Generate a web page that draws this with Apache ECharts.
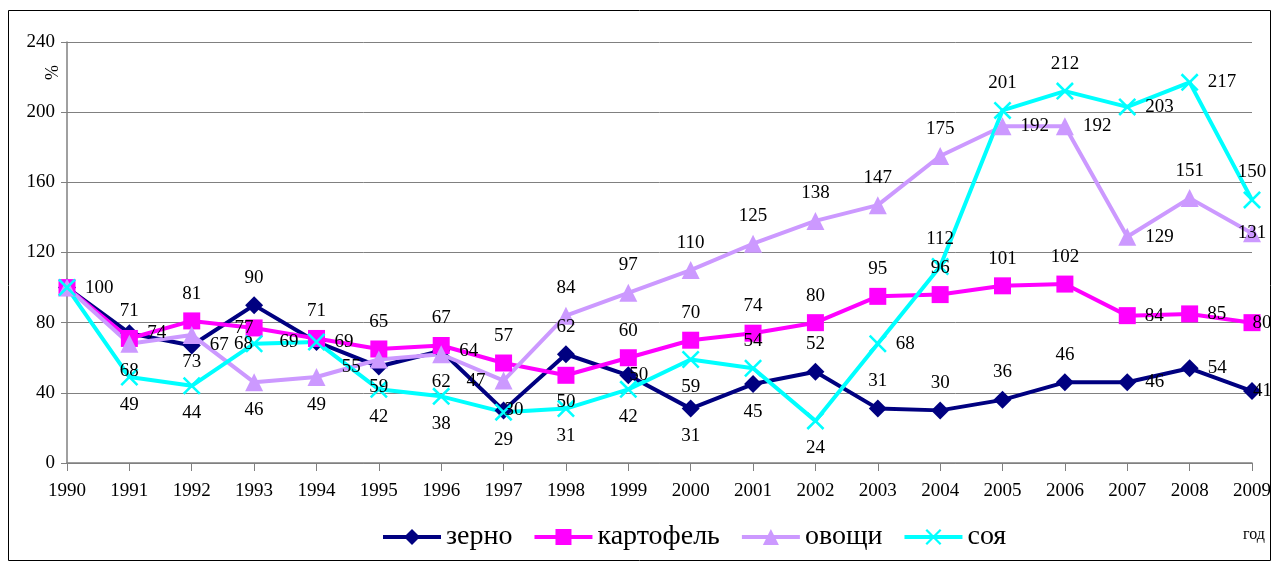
<!DOCTYPE html>
<html>
<head>
<meta charset="utf-8">
<script src="https://cdn.jsdelivr.net/npm/echarts@6/dist/echarts.min.js"></script>
<style>
  html, body { margin: 0; padding: 0; background: #fff; }
  #chart { width: 1277px; height: 564px; }
</style>
</head>
<body>
<div id="chart"></div>
<script>
// годы
const years = ['1990', '1991', '1992', '1993', '1994', '1995', '1996', '1997', '1998', '1999',
  '2000', '2001', '2002', '2003', '2004', '2005', '2006', '2007', '2008', '2009']
const zerno = [100, 74, 67, 90, 69, 55, 64, 30, 62, 50, 31, 45, 52, 31, 30, 36, 46, 46, 54, 41]
const kartofel = [100, 71, 81, 77, 71, 65, 67, 57, 50, 60, 70, 74, 80, 95, 96, 101, 102, 84, 85, 80]
const ovoshchi = [100, 68, 73, 46, 49, 59, 62, 47, 84, 97, 110, 125, 138, 147, 175, 192, 192, 129, 151, 131]
const soya = [100, 49, 44, 68, 69, 42, 38, 29, 31, 42, 59, 54, 24, 68, 112, 201, 212, 203, 217, 150]
const yTicks = [0, 40, 80, 120, 160, 200, 240]

// где стоят подписи (t - сверху, b - снизу, r - справа, l - слева,
// R / L - вплотную к маркеру, c - на маркере, '' - нет подписи)
const placeZerno = ['', 'r', 'r', 't', 'r', 'l', 'r', 'R', 't', 'R', 'b', 'b', 't', 't', 't', 't', 't', 'r', 'r', 'R']
const placeKart = ['', 't', 't', 'L', 't', 't', 't', 't', 'b', 't', 't', 't', 't', 't', 't', 't', 't', 'r', 'r', 'R']
const placeOvosh = ['', 'b', 'b', 'b', 'b', 'b', 'b', 'l', 't', 't', 't', 't', 't', 't', 't', 'r', 'r', 'r', 't', 'c']
const placeSoya = ['r', 'b', 'b', 'L', 'l', 'b', 'b', 'b', 'b', 'b', 'b', 't', 'b', 'r', 't', 't', 't', 'r', 'r', 't']

const font = 'Liberation Serif'
const crossPath = 'path://M0,1L1,0L10,9L9,10Z M9,0L10,1L1,10L0,9Z'
const posName = { t: 'top', b: 'bottom', r: 'right', l: 'left', R: 'right', L: 'left', c: 'inside' }

const chart = echarts.init(document.getElementById('chart'))

function labelFor(p) {
  if (!p) return { show: false }
  const lbl = { show: true, position: posName[p] }
  if (p === 'R' || p === 'L') lbl.distance = -8
  return lbl
}

function makeSeries(name, data, place, color, symbol, size) {
  return {
    name: name,
    type: 'line',
    data: data.map((v, i) => ({ value: v, label: labelFor(place[i]) })),
    symbol: symbol,
    symbolSize: size,
    showAllSymbol: true,
    lineStyle: { color: color, width: 4 },
    itemStyle: { color: color },
    label: {
      show: true,
      distance: 9,
      color: '#000',
      fontFamily: font,
      fontSize: 19
    }
  }
}

const series = [
  makeSeries('зерно', zerno, placeZerno, '#000080', 'diamond', 18),
  makeSeries('картофель', kartofel, placeKart, '#FF00FF', 'rect', 17),
  makeSeries('овощи', ovoshchi, placeOvosh, '#CC99FF', 'triangle', 18),
  makeSeries('соя', soya, placeSoya, '#00FFFF', crossPath, 18)
]

chart.setOption({
  backgroundColor: '#fff',
  animation: false,
  grid: { left: 67, right: 25, top: 42, bottom: 101 },
  legend: {
    left: 376,
    top: 518,
    itemWidth: 58,
    itemHeight: 20,
    itemGap: 20,
    lineStyle: { width: 4 },
    textStyle: { color: '#000', fontFamily: font, fontSize: 28 },
    data: series.map(s => s.name)
  },
  xAxis: {
    type: 'category',
    data: years,
    boundaryGap: false,
    axisLine: { lineStyle: { color: '#808080', width: 1.5 } },
    axisTick: { show: true, alignWithLabel: true, length: 8, lineStyle: { color: '#808080' } },
    axisLabel: { color: '#000', fontFamily: font, fontSize: 19, margin: 19, interval: 0 }
  },
  yAxis: {
    type: 'value',
    min: yTicks[0],
    max: yTicks[yTicks.length - 1],
    interval: 40,
    axisLine: { show: true, lineStyle: { color: '#808080', width: 1.5 } },
    axisTick: { show: true, length: 6, lineStyle: { color: '#808080' } },
    axisLabel: { color: '#000', fontFamily: font, fontSize: 19, margin: 12 },
    splitLine: { lineStyle: { color: '#808080', width: 1 } }
  },
  graphic: [
    {
      type: 'rect',
      shape: { x: 8.5, y: 10.5, width: 1262, height: 550 },
      style: { fill: 'none', stroke: '#000', lineWidth: 1 },
      silent: true
    },
    {
      type: 'text',
      x: 44,
      y: 80,
      rotation: Math.PI / 2,
      style: { text: '%', fill: '#000', font: '18px "' + font + '"' }
    },
    {
      type: 'text',
      x: 1243,
      y: 527,
      style: { text: 'год', fill: '#000', font: '16px "' + font + '"' }
    }
  ],
  series: series
})
</script>
</body>
</html>
